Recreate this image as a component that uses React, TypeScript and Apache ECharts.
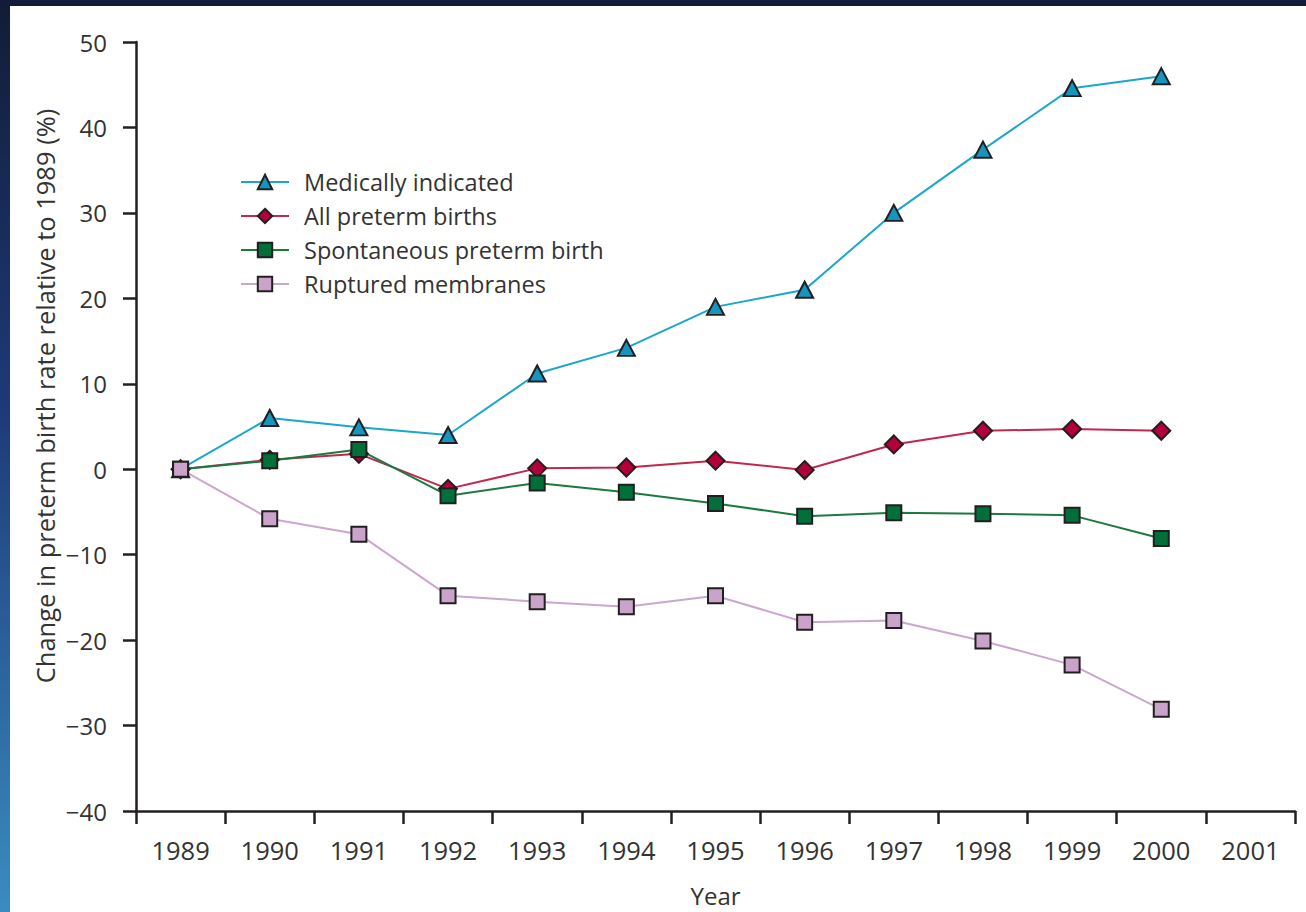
import React, { useEffect, useRef } from "react";
import * as echarts from "echarts";

const years = ["1989", "1990", "1991", "1992", "1993", "1994", "1995", "1996", "1997", "1998", "1999", "2000", "2001"];
const medicallyIndicated = [0, 6.0, 4.9, 4.0, 11.2, 14.2, 19.0, 21.0, 30.0, 37.4, 44.6, 46.0, null];
const allPreterm = [0, 1.1, 1.8, -2.3, 0.1, 0.2, 1.0, -0.1, 2.9, 4.5, 4.7, 4.5, null];
const spontaneous = [0, 1.0, 2.3, -3.1, -1.6, -2.7, -4.0, -5.5, -5.1, -5.2, -5.4, -8.1, null];
const ruptured = [0, -5.8, -7.6, -14.8, -15.5, -16.1, -14.8, -17.9, -17.7, -20.1, -22.9, -28.1, null];
const yTicks = { min: -40, max: 50, interval: 10 };

const FONT = "'Open Sans', 'Noto Sans', sans-serif";
const TEXT = "#333333";
const AXIS = "#231f20";

export default function App() {
  const ref = useRef<HTMLDivElement>(null);
  useEffect(() => {
    document.body.style.margin = "0";
    const chart = echarts.init(ref.current!, null, { renderer: "svg" });
    const mk = (name: string, data: (number | null)[], line: string, fill: string, symbol: string, size: number | number[]) => ({
      name,
      type: "line",
      data,
      symbol,
      symbolSize: size,
      showSymbol: true,
      lineStyle: { color: line, width: 2 },
      itemStyle: { color: fill, borderColor: "#231f20", borderWidth: 2 },
      emphasis: { disabled: true },
    });
    chart.setOption({
      animation: false,
      backgroundColor: new echarts.graphic.LinearGradient(0, 0, 0, 1, [
        { offset: 0, color: "#121c38" },
        { offset: 0.45, color: "#1e3a78" },
        { offset: 1, color: "#3a8cc0" },
      ]),
      textStyle: { fontFamily: FONT },
      graphic: [
        { type: "rect", z: -10, shape: { x: 10, y: 6, width: 1296, height: 906 }, style: { fill: "#ffffff" } },
        {
          type: "text",
          x: 45,
          y: 396,
          rotation: Math.PI / 2,
          style: {
            text: "Change in preterm birth rate relative to 1989 (%)",
            fontFamily: FONT,
            fontSize: 25.5,
            fill: TEXT,
            align: "center",
            verticalAlign: "middle",
          },
        },
      ],
      grid: { left: 136, top: 42, right: 11, bottom: 99.5 },
      legend: {
        orient: "vertical",
        left: 240,
        top: 170,
        padding: 0,
        itemWidth: 48,
        itemHeight: 18,
        itemGap: 10,
        textStyle: { fontSize: 23.5, color: TEXT, fontFamily: FONT, lineHeight: 23, padding: [0, 0, 0, 10] },
        data: ["Medically indicated", "All preterm births", "Spontaneous preterm birth", "Ruptured membranes"],
      },
      xAxis: {
        type: "category",
        data: years,
        boundaryGap: true,
        name: "Year",
        nameLocation: "middle",
        nameGap: 72,
        nameTextStyle: { fontSize: 24, color: TEXT, fontFamily: FONT },
        axisLine: { show: true, onZero: false, lineStyle: { color: AXIS, width: 2.5 } },
        axisTick: { show: true, interval: 0, length: 13, lineStyle: { color: AXIS, width: 2.5 } },
        axisLabel: { fontSize: 25.5, color: TEXT, margin: 26, fontFamily: FONT, interval: 0 },
      },
      yAxis: {
        type: "value",
        min: yTicks.min,
        max: yTicks.max,
        interval: yTicks.interval,
        splitLine: { show: false },
        axisLine: { show: true, lineStyle: { color: AXIS, width: 2.5 } },
        axisTick: { show: true, length: 13, lineStyle: { color: AXIS, width: 2.5 } },
        axisLabel: {
          fontSize: 24,
          color: TEXT,
          margin: 29,
          fontFamily: FONT,
          formatter: (v: number) => (v < 0 ? "\u2212" + Math.abs(v) : String(v)),
        },
      },
      series: [
        mk("Medically indicated", medicallyIndicated, "#1aa7cc", "#1596bf", "triangle", [17, 16]),
        mk("All preterm births", allPreterm, "#c0284c", "#b3003a", "diamond", 18),
        mk("Spontaneous preterm birth", spontaneous, "#1b7a40", "#006f3a", "rect", 15),
        mk("Ruptured membranes", ruptured, "#cba6cd", "#c9a3c9", "rect", 15),
      ],
    });
    return () => chart.dispose();
  }, []);
  return <div ref={ref} style={{ width: 1306, height: 912 }} />;
}
